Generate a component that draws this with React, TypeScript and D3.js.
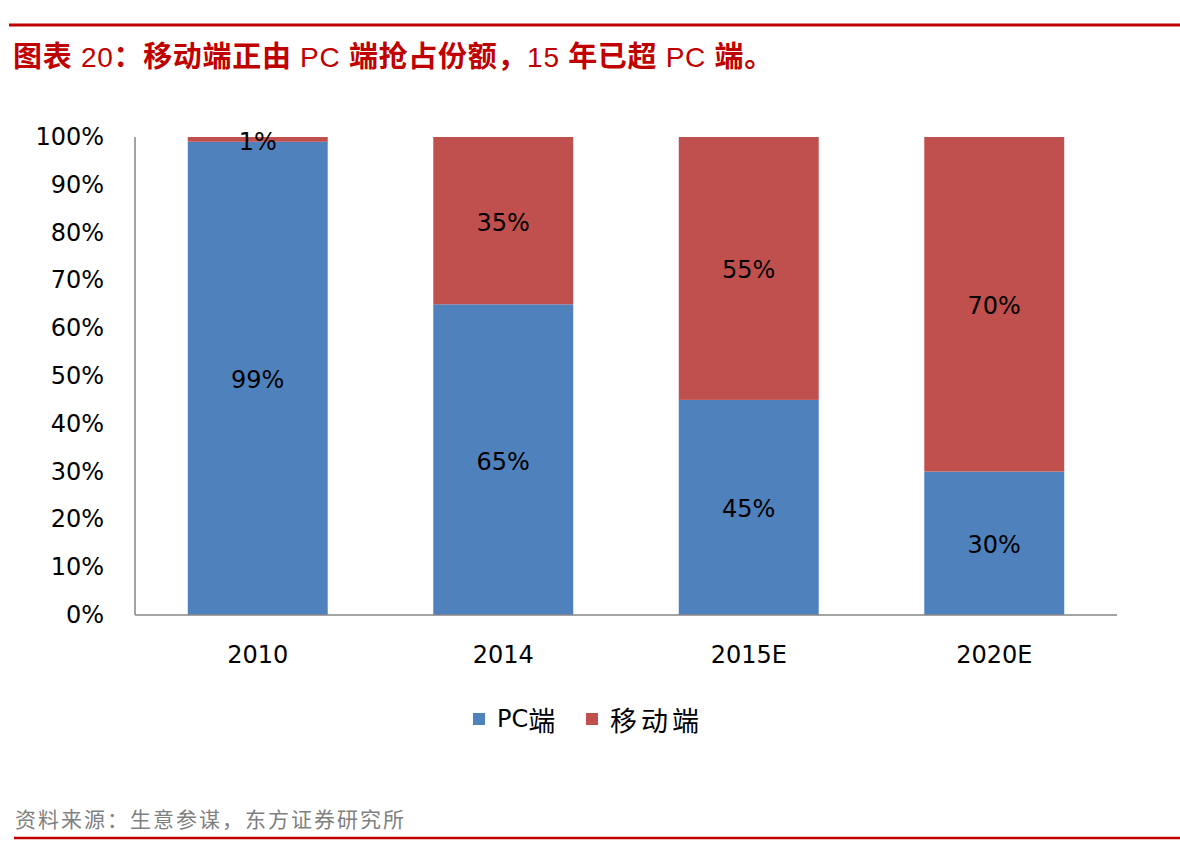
import React, { useEffect } from 'react';
import * as d3 from 'd3';

const categories = ['2010', '2014', '2015E', '2020E'];
const pcShare = [99, 65, 45, 30];
const mobileShare = [1, 35, 55, 70];
const seriesNames = ['PC端', '移动端'];
const yTicks = [0, 10, 20, 30, 40, 50, 60, 70, 80, 90, 100];

const COLORS = ['#4F81BD', '#C0504D'];
const RED = '#C00000';
const NUM_FONT = '"DejaVu Sans", sans-serif';
const CJK = '"Noto Sans CJK SC", sans-serif';
const LATIN = '"Liberation Sans", Arial, sans-serif';

const W = 1180;
const H = 858;
const margin = { left: 135, right: 1117, top: 137, bottom: 615 };

export default function App() {
  useEffect(() => {
    document.body.style.margin = '0';
  }, []);

  const x = d3.scaleBand<string>()
    .domain(categories)
    .range([margin.left, margin.right])
    .paddingInner(0.43)
    .paddingOuter(0.215);

  const y = d3.scaleLinear().domain([0, 100]).range([margin.bottom, margin.top]);

  const rows = categories.map((c, i) => ({ cat: c, pc: pcShare[i], mobile: mobileShare[i] }));
  const stacked = d3.stack<any>().keys(['pc', 'mobile'])(rows);

  return (
    <svg width={W} height={H} style={{ display: 'block', background: '#fff' }}>
      {/* header */}
      <line x1={9} x2={W} y1={25} y2={25} stroke={RED} strokeWidth={3} />
      <text x={13} y={67} fill={RED} fontSize={29} letterSpacing={0.7} fontFamily={CJK}>
        <tspan fontWeight={700}>图表</tspan>
        <tspan fontFamily={LATIN} fontSize={28}> 20</tspan>
        <tspan fontWeight={700}>：移动端正由</tspan>
        <tspan fontFamily={LATIN} fontSize={28}> PC </tspan>
        <tspan fontWeight={700}>端抢占份额，</tspan>
        <tspan fontFamily={LATIN} fontSize={28}>15 </tspan>
        <tspan fontWeight={700}>年已超</tspan>
        <tspan fontFamily={LATIN} fontSize={28}> PC </tspan>
        <tspan fontWeight={700}>端。</tspan>
      </text>

      {/* bars */}
      {stacked.map((s, si) => (
        <g key={s.key}>
          {s.map((d, i) => (
            <rect
              key={categories[i]}
              x={x(categories[i])}
              width={x.bandwidth()}
              y={y(d[1])}
              height={y(d[0]) - y(d[1])}
              fill={COLORS[si]}
            />
          ))}
        </g>
      ))}

      {/* data labels */}
      {stacked.map((s, si) => (
        <g key={'lbl' + s.key}>
          {s.map((d, i) => {
            const v = d[1] - d[0];
            const cy = (y(d[0]) + y(d[1])) / 2;
            return (
              <text
                key={categories[i]}
                x={(x(categories[i]) as number) + x.bandwidth() / 2}
                y={Math.max(cy + 2, margin.top + 5)}
                textAnchor="middle"
                dominantBaseline="central"
                fontSize={24}
                fontFamily={NUM_FONT}
                fill="#000"
              >
                {v}%
              </text>
            );
          })}
        </g>
      ))}

      {/* axes */}
      <line x1={margin.left} x2={margin.left} y1={margin.top} y2={margin.bottom} stroke="#868686" strokeWidth={1.5} />
      <line x1={margin.left} x2={margin.right} y1={margin.bottom} y2={margin.bottom} stroke="#868686" strokeWidth={1.5} />
      {yTicks.map(t => (
        <text
          key={t}
          x={104}
          y={y(t)}
          textAnchor="end"
          dominantBaseline="central"
          fontSize={24}
          fontFamily={NUM_FONT}
          fill="#000"
        >
          {t}%
        </text>
      ))}
      {categories.map(c => (
        <text
          key={c}
          x={(x(c) as number) + x.bandwidth() / 2}
          y={655}
          textAnchor="middle"
          dominantBaseline="central"
          fontSize={24}
          fontFamily={NUM_FONT}
          fill="#000"
        >
          {c}
        </text>
      ))}

      {/* legend */}
      {seriesNames.map((n, i) => {
        const lx = [473, 586][i];
        const latin = n.match(/^[A-Za-z]+/)?.[0] ?? '';
        const rest = n.slice(latin.length);
        return (
          <g key={n}>
            <rect x={lx} y={713} width={12} height={12} fill={COLORS[i]} />
            <text x={lx + 24} y={719} dominantBaseline="central" fontSize={24} fill="#000">
              {latin && <tspan fontFamily={NUM_FONT}>{latin}</tspan>}
              <tspan fontFamily={CJK} fontSize={27} letterSpacing={4}>{rest}</tspan>
            </text>
          </g>
        );
      })}

      {/* footer */}
      <text x={15} y={818} dominantBaseline="central" fontSize={21} letterSpacing={2} fontFamily={CJK} fill="#808080">
        资料来源：生意参谋，东方证券研究所
      </text>
      <line x1={14} x2={W} y1={838} y2={838} stroke={RED} strokeWidth={2.5} />
    </svg>
  );
}
